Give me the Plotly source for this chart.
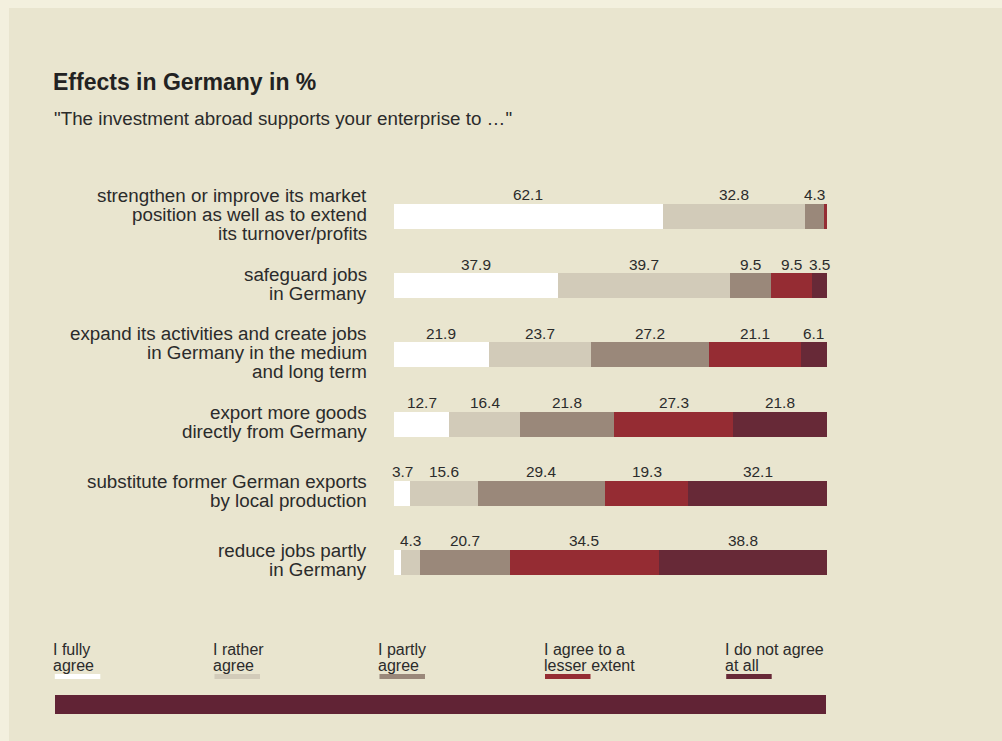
import plotly.graph_objects as go

# ---- data -------------------------------------------------------------
statements = [
    ["strengthen or improve its market", "position as well as to extend", "its turnover/profits"],
    ["safeguard jobs", "in Germany"],
    ["expand its activities and create jobs", "in Germany in the medium", "and long term"],
    ["export more goods", "directly from Germany"],
    ["substitute former German exports", "by local production"],
    ["reduce jobs partly", "in Germany"],
]

answer_names = [
    ["I fully", "agree"],
    ["I rather", "agree"],
    ["I partly", "agree"],
    ["I agree to a", "lesser extent"],
    ["I do not agree", "at all"],
]

fully_agree = [62.1, 37.9, 21.9, 12.7, 3.7, 1.7]
rather_agree = [32.8, 39.7, 23.7, 16.4, 15.6, 4.3]
partly_agree = [4.3, 9.5, 27.2, 21.8, 29.4, 20.7]
lesser_extent = [0.8, 9.5, 21.1, 27.3, 19.3, 34.5]
not_at_all = [0.0, 3.5, 6.1, 21.8, 32.1, 38.8]

series = [fully_agree, rather_agree, partly_agree, lesser_extent, not_at_all]

# segments printed without a value (row, answer)
unlabelled = {(0, 3), (0, 4), (5, 0)}

# ---- style --------------------------------------------------------------
colors = ["#ffffff", "#d2cbb9", "#9a887a", "#952c33", "#672937"]
panel_bg = "#e9e5cf"
outer_bg = "#f3f0de"
text_col = "#2b2b2b"
font_family = "Liberation Sans, Arial, sans-serif"

W, H = 1002, 741
L, R, T, B = 394, 175, 182, 144
PW, PH = W - L - R, H - T - B


def px_x(px):
    return (px - L) / PW


def px_y(py):
    return (H - B - py) / PH


rows = list(range(len(statements)))

fig = go.Figure()
for vals, col, name in zip(series, colors, answer_names):
    fig.add_trace(go.Bar(
        x=vals, y=rows, orientation="h", width=0.36,
        marker=dict(color=col, line=dict(width=0)),
        name=" ".join(name), hoverinfo="skip", showlegend=False,
    ))

annotations = []

# values above each segment
for r in rows:
    base = 0.0
    for k, vals in enumerate(series):
        v = vals[r]
        if v > 0 and (r, k) not in unlabelled:
            annotations.append(dict(
                x=base + v / 2, y=r, xref="x", yref="y", yshift=21.7,
                text=f"{v:.1f}", showarrow=False, xanchor="center", yanchor="middle",
                font=dict(size=15.4, color=text_col, family=font_family),
                borderpad=0, borderwidth=0,
            ))
        base += v

# statement labels, one annotation per line for tight spacing
line_gap = 19
for r, lines in zip(rows, statements):
    n = len(lines)
    for k, line in enumerate(lines):
        offset = (k - (n - 1) / 2) * line_gap - 2
        annotations.append(dict(
            x=px_x(367), y=r, xref="paper", yref="y", yshift=-offset,
            text=line, showarrow=False, xanchor="right", yanchor="middle",
            font=dict(size=18.8, color=text_col, family=font_family),
            borderpad=0, borderwidth=0,
        ))

# title and subtitle
annotations.append(dict(
    x=px_x(52.8), y=px_y(82), xref="paper", yref="paper",
    text="<b>Effects in Germany in %</b>", showarrow=False,
    xanchor="left", yanchor="middle",
    font=dict(size=23, color="#222222", family=font_family),
    borderpad=0, borderwidth=0,
))
annotations.append(dict(
    x=px_x(53.5), y=px_y(118.6), xref="paper", yref="paper",
    text="\"The investment abroad supports your enterprise to …\"", showarrow=False,
    xanchor="left", yanchor="middle",
    font=dict(size=18.8, color=text_col, family=font_family),
    borderpad=0, borderwidth=0,
))

shapes = [
    # outer frame strips
    dict(type="rect", xref="paper", yref="paper", x0=px_x(0), x1=px_x(W), y0=px_y(0), y1=px_y(8),
         fillcolor=outer_bg, line=dict(width=0), layer="below"),
    dict(type="rect", xref="paper", yref="paper", x0=px_x(0), x1=px_x(9), y0=px_y(0), y1=px_y(H),
         fillcolor=outer_bg, line=dict(width=0), layer="below"),
    # closing band at the bottom
    dict(type="rect", xref="paper", yref="paper", x0=px_x(55), x1=px_x(826), y0=px_y(714), y1=px_y(695),
         fillcolor="#612335", line=dict(width=0)),
]

# legend: text above a short colour stripe
legend_x = [54.8, 214.5, 379.5, 545, 726.2]
for lx, name, col in zip(legend_x, answer_names, colors):
    for k, line in enumerate(name):
        annotations.append(dict(
            x=px_x(lx - 1.4), y=px_y(649 + k * 16.7), xref="paper", yref="paper",
            text=line, showarrow=False, xanchor="left", yanchor="middle",
            font=dict(size=16, color=text_col, family=font_family),
            borderpad=0, borderwidth=0,
        ))
    shapes.append(dict(
        type="rect", xref="paper", yref="paper",
        x0=px_x(lx), x1=px_x(lx + 45.5), y0=px_y(679), y1=px_y(674),
        fillcolor=col, line=dict(width=0),
    ))

fig.update_layout(
    width=W, height=H,
    margin=dict(l=L, r=R, t=T, b=B, pad=0),
    barmode="stack", bargap=0,
    paper_bgcolor=panel_bg, plot_bgcolor=panel_bg,
    xaxis=dict(range=[0, 100], visible=False, showgrid=False, zeroline=False, fixedrange=True),
    yaxis=dict(range=[len(rows) - 0.5, -0.5], visible=False, showgrid=False, zeroline=False, fixedrange=True),
    annotations=annotations, shapes=shapes,
    font=dict(family=font_family, color=text_col),
    showlegend=False,
)

fig.write_html("out.html", config={"displayModeBar": False})
